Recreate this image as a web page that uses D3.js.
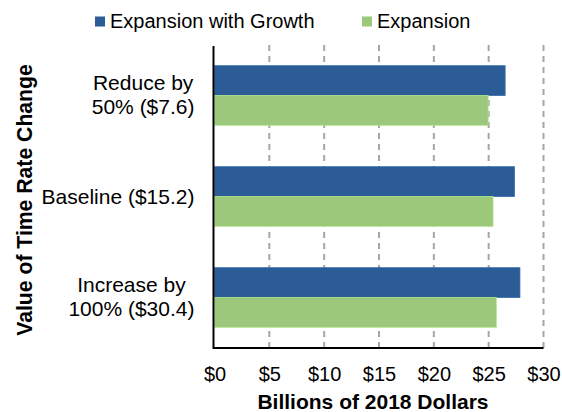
<!DOCTYPE html>
<html><head><meta charset="utf-8">
<script src="https://cdn.jsdelivr.net/npm/d3@7"></script>
<style>body{margin:0;background:#fff}svg{display:block}text{font-family:"Liberation Sans",Arial,sans-serif;fill:#000}</style>
</head><body>
<svg id="c" width="562" height="412"></svg>
<script>
const categories = [["Reduce by", "50% ($7.6)"], ["Baseline ($15.2)"], ["Increase by", "100% ($30.4)"]];
const seriesNames = ["Expansion with Growth", "Expansion"];
const expansionWithGrowth = [26.5, 27.35, 27.85];
const expansion = [24.95, 25.4, 25.7];
const xTicks = [0, 5, 10, 15, 20, 25, 30];
const xTickLabels = ["$0", "$5", "$10", "$15", "$20", "$25", "$30"];
const colors = ["#2B5C95", "#9BC87A"];

(function () {
const svg = d3.select("#c");
const pLeft = 214.5, pRight = 543.5, pTop = 45, pBottom = 348;
const x = d3.scaleLinear().domain([0, 30]).range([pLeft, pRight]);
const y = d3.scaleBand().domain(d3.range(categories.length)).range([pTop, pBottom]).paddingInner(0.41).paddingOuter(0.205);
const ySub = d3.scaleBand().domain([0, 1]).range([0, y.bandwidth()]);

// gridlines
svg.append("g").selectAll("line").data(xTicks.slice(1)).join("line")
  .attr("x1", d => x(d)).attr("x2", d => x(d)).attr("y1", pTop).attr("y2", pBottom)
  .attr("stroke", "#a6a6a6").attr("stroke-width", 2).attr("stroke-dasharray", "6,5");

// bars
const series = [expansionWithGrowth, expansion];
series.forEach((vals, s) => {
  svg.append("g").selectAll("rect").data(vals).join("rect")
    .attr("x", x(0)).attr("width", d => x(d) - x(0))
    .attr("y", (d, i) => y(i) + ySub(s)).attr("height", ySub.bandwidth())
    .attr("fill", colors[s]).attr("stroke", d3.color(colors[s]).brighter(0.4)).attr("stroke-width", 0.8);
});

// axes
const xAxis = svg.append("g").attr("transform", `translate(0,${pBottom})`)
  .call(d3.axisBottom(x).tickValues(xTicks).tickFormat((d, i) => xTickLabels[i]).tickSize(0).tickPadding(19));
xAxis.select(".domain").remove();
xAxis.selectAll("text").attr("font-size", 20).attr("font-family", "Liberation Sans, Arial, sans-serif").attr("fill", "#000");
svg.append("line").attr("x1", pLeft - 1).attr("x2", pRight).attr("y1", pBottom).attr("y2", pBottom).attr("stroke", "#000").attr("stroke-width", 2);
svg.append("line").attr("x1", pLeft - 1).attr("x2", pLeft - 1).attr("y1", pTop + 1).attr("y2", pBottom + 1).attr("stroke", "#000").attr("stroke-width", 2);

// category labels
const labelRight = 194.5;
categories.forEach((lines, i) => {
  const cy = y(i) + y.bandwidth() / 2;
  const g = svg.append("g");
  const ts = lines.map((t, k) => g.append("text").attr("font-size", 21).attr("text-anchor", "middle")
    .attr("y", lines.length === 1 ? cy + 7 : cy - 5.5 + k * 24).text(t));
  const w = d3.max(ts, t => t.node().getComputedTextLength());
  ts.forEach(t => t.attr("x", labelRight - w / 2));
});

// titles
svg.append("text").attr("x", 373).attr("y", 409).attr("text-anchor", "middle")
  .attr("font-size", 21).attr("font-weight", "bold").text("Billions of 2018 Dollars");
svg.append("text").attr("transform", "translate(32,200) rotate(-90)").attr("text-anchor", "middle")
  .attr("font-size", 21.2).attr("font-weight", "bold").text("Value of Time Rate Change");

// legend
const legX = [95, 362];
seriesNames.forEach((n, s) => {
  svg.append("rect").attr("x", legX[s]).attr("y", 16.5).attr("width", 10).attr("height", 10).attr("fill", colors[s]);
  svg.append("text").attr("x", legX[s] + 15).attr("y", 28).attr("font-size", 20).text(n);
});
})();
</script>
</body></html>
